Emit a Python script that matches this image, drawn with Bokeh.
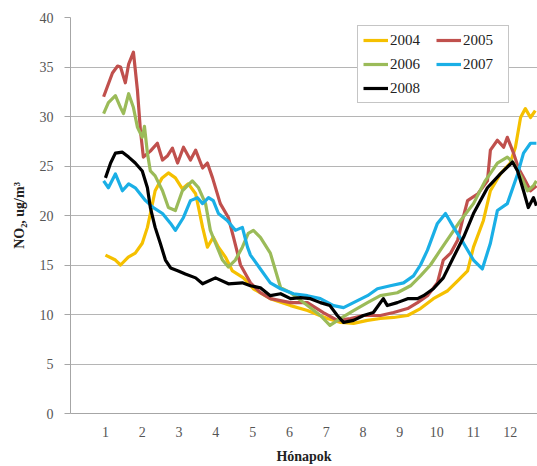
from bokeh.plotting import figure
from bokeh.models import Legend, LegendItem, FixedTicker, Range1d
from bokeh.embed import file_html
from bokeh.resources import INLINE

# ---- data (months, NO2 ug/m3) ----
x_2004 = [1.0, 1.27, 1.41, 1.62, 1.81, 2.0, 2.14, 2.22, 2.35, 2.54, 2.71, 2.9, 3.09, 3.25, 3.45, 3.53,
          3.64, 3.77, 3.93, 4.07, 4.26, 4.45, 4.75, 5.02, 5.48, 6.03, 6.49, 7.03, 7.39, 7.74, 8.12, 8.47,
          8.83, 9.21, 9.56, 9.91, 10.3, 10.57, 10.84, 11.0, 11.27, 11.46, 11.73, 12.0, 12.14, 12.28,
          12.41, 12.55, 12.68]
y_2004 = [16.0, 15.5, 15.0, 15.8, 16.2, 17.2, 18.8, 20.2, 22.5, 23.8, 24.3, 23.8, 22.7, 23.2, 22.2, 20.8,
          18.8, 16.8, 17.8, 16.8, 15.8, 14.4, 13.7, 12.6, 11.6, 10.9, 10.4, 9.6, 9.2, 9.1, 9.4, 9.6,
          9.7, 9.9, 10.6, 11.6, 12.4, 13.4, 14.4, 16.8, 19.5, 22.5, 24.2, 25.3, 26.9, 29.9,
          30.8, 29.9, 30.6]

x_2005 = [0.95, 1.19, 1.33, 1.41, 1.54, 1.63, 1.76, 1.87, 1.95, 2.03, 2.22, 2.41, 2.55, 2.68, 2.82, 2.96,
          3.12, 3.31, 3.45, 3.64, 3.77, 3.91, 4.12, 4.34, 4.48, 4.67, 4.94, 5.21, 5.48, 6.03, 6.49, 6.92,
          7.3, 7.66, 8.01, 8.47, 8.83, 9.21, 9.48, 9.75, 10.02, 10.18, 10.38, 10.57, 10.7, 10.84, 11.12,
          11.38, 11.46, 11.65, 11.82, 11.92, 12.09, 12.22, 12.41, 12.55, 12.71]
y_2005 = [32.0, 34.4, 35.1, 35.0, 33.4, 35.3, 36.5, 32.6, 28.6, 25.9, 26.5, 27.3, 25.6, 26.0, 26.8, 25.3,
          26.9, 25.6, 26.6, 24.8, 25.3, 23.8, 21.2, 19.8, 17.8, 15.0, 13.2, 12.2, 11.6, 11.2, 11.2, 10.2,
          9.4, 9.6, 9.9, 9.9, 10.2, 10.6, 11.2, 11.9, 13.2, 15.5, 16.2, 17.5, 19.5, 21.5, 22.2,
          23.5, 26.6, 27.6, 26.9, 27.9, 26.3, 24.8, 23.5, 22.5, 23.0]

x_2006 = [0.95, 1.08, 1.27, 1.41, 1.49, 1.63, 1.76, 1.87, 2.0, 2.06, 2.14, 2.22, 2.35, 2.55, 2.71, 2.9,
          3.09, 3.36, 3.53, 3.72, 3.85, 3.99, 4.18, 4.34, 4.53, 4.72, 4.88, 5.02, 5.21, 5.48, 5.76, 6.03,
          6.49, 6.84, 7.1, 7.39, 7.74, 8.12, 8.47, 8.93, 9.29, 9.56, 9.83, 10.1, 10.65, 11.0, 11.32,
          11.65, 11.92, 12.09, 12.28, 12.47, 12.63, 12.71]
y_2006 = [30.3, 31.4, 32.1, 30.9, 30.3, 32.3, 30.9, 28.9, 27.9, 29.0, 26.3, 24.5, 24.0, 22.5, 20.8, 20.5,
          22.5, 23.5, 22.8, 21.2, 18.5, 17.2, 15.5, 14.8, 15.5, 16.8, 18.2, 18.5, 17.8, 16.2, 12.7, 12.2,
          10.9, 9.9, 8.9, 9.6, 10.4, 11.2, 11.9, 12.2, 12.9, 13.9, 15.0, 16.5, 19.5, 21.2, 23.5,
          25.3, 25.9, 25.3, 24.0, 22.5, 23.0, 23.5]

x_2007 = [0.95, 1.08, 1.27, 1.46, 1.63, 1.81, 2.09, 2.3, 2.55, 2.77, 2.9, 3.12, 3.31, 3.5, 3.64, 3.8,
          3.93, 4.07, 4.31, 4.53, 4.72, 4.86, 4.94, 5.21, 5.48, 5.76, 6.11, 6.49, 6.84, 7.2, 7.47, 7.74,
          8.12, 8.39, 8.74, 9.1, 9.37, 9.56, 9.75, 10.02, 10.24, 10.46, 10.73, 11.0, 11.24, 11.46, 11.65,
          11.92, 12.2, 12.36, 12.55, 12.71]
y_2007 = [23.5, 22.8, 24.2, 22.5, 23.2, 22.8, 21.5, 20.8, 20.2, 19.2, 18.5, 19.8, 21.5, 21.8, 21.2, 21.8,
          21.5, 20.2, 19.5, 18.5, 18.8, 16.8, 16.0, 14.6, 13.2, 12.6, 12.1, 11.9, 11.6, 10.9, 10.7, 11.2,
          11.9, 12.6, 12.9, 13.2, 13.9, 15.0, 16.5, 19.2, 20.2, 18.8, 17.2, 15.5, 14.6, 17.2, 20.5,
          21.2, 24.2, 26.3, 27.3, 27.3]

x_2008 = [1.0, 1.14, 1.27, 1.46, 1.63, 1.81, 2.0, 2.14, 2.22, 2.35, 2.49, 2.63, 2.77, 2.98, 3.17, 3.45,
          3.64, 3.99, 4.34, 4.72, 4.94, 5.21, 5.48, 5.76, 6.03, 6.3, 6.57, 6.84, 7.1, 7.3, 7.47, 7.74,
          8.01, 8.28, 8.55, 8.66, 8.93, 9.21, 9.48, 9.64, 9.91, 10.18, 10.46, 10.73, 11.0, 11.38, 11.73,
          12.06, 12.2, 12.36, 12.49, 12.63, 12.71]
y_2008 = [23.8, 25.3, 26.3, 26.4, 25.9, 25.3, 24.5, 22.8, 20.8, 18.8, 17.2, 15.5, 14.7, 14.4, 14.1, 13.7,
          13.1, 13.7, 13.1, 13.2, 12.9, 12.7, 11.9, 12.1, 11.6, 11.7, 11.6, 11.2, 10.9, 9.9, 9.2, 9.4,
          9.9, 10.2, 11.6, 10.9, 11.2, 11.6, 11.6, 11.9, 12.6, 13.7, 15.8, 17.8, 20.2, 22.8, 24.2,
          25.4, 24.5, 22.5, 20.8, 21.8, 21.0]

years = ["2004", "2005", "2006", "2007", "2008"]
series_x = [x_2004, x_2005, x_2006, x_2007, x_2008]
series_y = [y_2004, y_2005, y_2006, y_2007, y_2008]
colors = ["#F5C000", "#C0504D", "#9BBB59", "#1AAFE6", "#000000"]

month_ticks = list(range(1, 13))
y_ticks = list(range(0, 45, 5))

SERIF = "Liberation Serif"

p = figure(width=537, height=466, output_backend="svg", toolbar_location=None,
           x_range=Range1d(0.05, 12.74), y_range=Range1d(0, 40),
           min_border_left=70, min_border_right=0, min_border_top=17, min_border_bottom=53)
p.outline_line_color = None
p.background_fill_color = "white"
p.border_fill_color = "white"

renderers = {}
for yr, xs, ys, c in zip(years, series_x, series_y, colors):
    renderers[yr] = p.line(xs, ys, line_color=c, line_width=3.2, line_join="round")

# axes
p.xaxis.ticker = FixedTicker(ticks=month_ticks)
p.yaxis.ticker = FixedTicker(ticks=y_ticks)
p.xgrid.visible = False
p.ygrid.grid_line_color = "#b5b5b5"
p.ygrid.grid_line_width = 1

for ax in (p.xaxis[0], p.yaxis[0]):
    ax.axis_line_color = "#a6a6a6"
    ax.major_label_text_font = SERIF
    ax.major_label_text_font_size = "14px"
    ax.major_label_text_color = "#555555"
    ax.minor_tick_line_color = None
    ax.axis_label_text_font = SERIF
    ax.axis_label_text_font_style = "bold"
    ax.axis_label_text_font_size = "14px"
    ax.axis_label_text_color = "#222222"

p.xaxis.major_tick_line_color = None
p.xaxis.major_tick_out = 0
p.xaxis.major_tick_in = 0
p.xaxis.major_label_standoff = 13
p.xaxis.axis_label = "Hónapok"
p.xaxis.axis_label_standoff = 9

p.yaxis.major_tick_line_color = "#a6a6a6"
p.yaxis.major_tick_out = 6
p.yaxis.major_tick_in = 0
p.yaxis.major_label_standoff = 11
p.yaxis.axis_label = "NO₂, ug/m³"
p.yaxis.axis_label_standoff = 10

# legend: column-major fill -> first column 2004, 2006, 2008; second 2005, 2007
legend_order = ["2004", "2006", "2008", "2005", "2007"]
items = [LegendItem(label=yr, renderers=[renderers[yr]]) for yr in legend_order]
legend = Legend(items=items, location=(287, 310), ncols=2,
                label_text_font=SERIF, label_text_font_size="15px", label_text_color="#222222",
                glyph_width=25, glyph_height=18, label_height=18, label_width=40, label_standoff=2,
                spacing=6, padding=5, margin=0,
                border_line_color="#8c8c8c", border_line_width=1,
                background_fill_color="white", background_fill_alpha=1.0)
p.add_layout(legend, "center")

open("out.html", "w").write(file_html(p, INLINE))
